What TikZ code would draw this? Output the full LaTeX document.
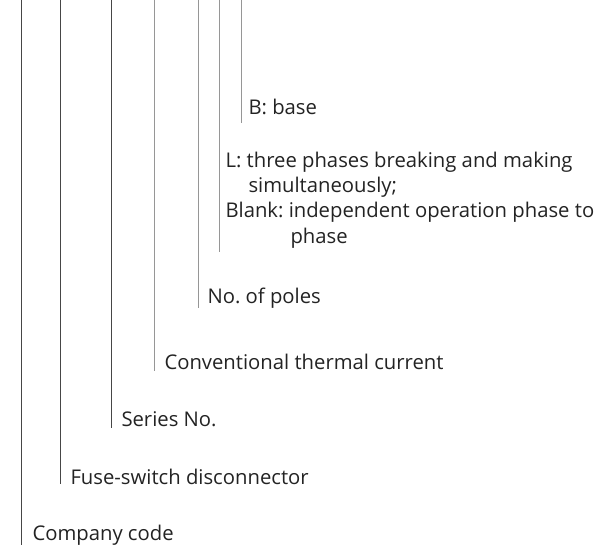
\documentclass[tikz,border=0pt]{standalone}
\usepackage{fontspec}
\setmainfont{Open Sans}
\usepackage{tikz}
\definecolor{line_dark}{RGB}{70,70,70}
\definecolor{line_gray}{RGB}{150,150,150}
\definecolor{text_gray}{RGB}{35,35,35}
\frenchspacing

\begin{document}
\begin{tikzpicture}[x=0.75pt,y=-0.75pt,line width=0.75pt]
    \tikzstyle{lab}=[anchor=west, inner sep=0pt, text=text_gray, font=\fontsize{15.2}{18}\selectfont]
    \tikzstyle{dk}=[draw=line_dark]
    \tikzstyle{gy}=[draw=line_gray]

    \useasboundingbox (0,0) rectangle (607,551);

    % labels
    \node[lab] (base)   at (248,107) {B: base};
    \node[lab] (la)     at (225,162) {L: three phases breaking and making};
    \node[lab] (lb)     at (248,187) {simultaneously;};
    \node[lab] (lc)     at (225,212) {Blank: independent operation phase to};
    \node[lab] (ld)     at (290,238) {phase};
    \node[lab] (poles)  at (207,298) {No. of poles};
    \node[lab] (curr)   at (164,362) {Conventional thermal current};
    \node[lab] (series) at (121,419) {Series No.};
    \node[lab] (fuse)   at (70,477)  {Fuse-switch disconnector};
    \node[lab] (comp)   at (32,535)  {Company code};

    % ends of the leader lines
    \coordinate (t1) at (21,0);   \coordinate (b1) at (21,545);
    \coordinate (t2) at (60,0);   \coordinate (b2) at (60,484);
    \coordinate (t3) at (111,0);  \coordinate (b3) at (111,428);
    \coordinate (t4) at (154,0);  \coordinate (b4) at (154,371);
    \coordinate (t5) at (198,0);  \coordinate (b5) at (198,308);
    \coordinate (t6) at (219,0);  \coordinate (b6) at (219,252);
    \coordinate (t7) at (241,0);  \coordinate (b7) at (241,123);

    \path
     (t1) edge[dk] (b1)
     (t2) edge[dk] (b2)
     (t3) edge[dk] (b3)
     (t4) edge[gy] (b4)
     (t5) edge[gy] (b5)
     (t6) edge[gy] (b6)
     (t7) edge[gy] (b7)
     ;
\end{tikzpicture}
\end{document}
